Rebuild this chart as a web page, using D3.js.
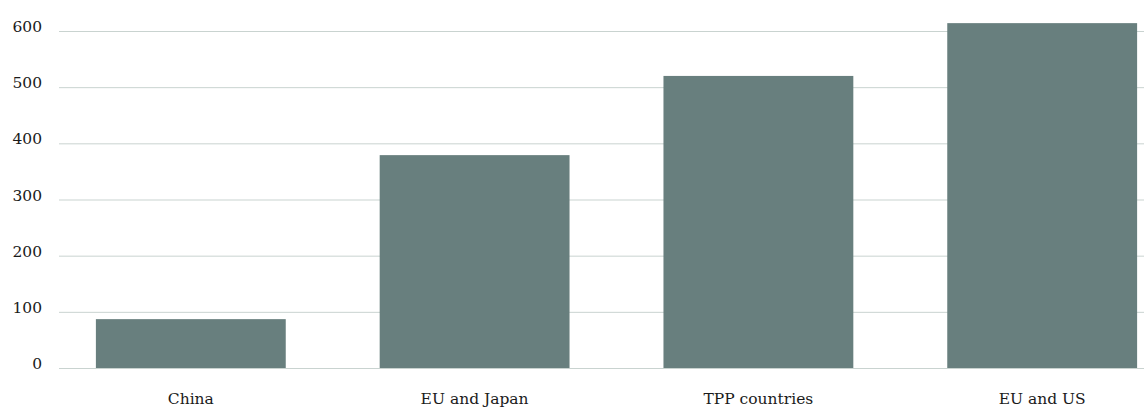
<!DOCTYPE html>
<html>
<head>
<meta charset="utf-8">
<script src="https://cdn.jsdelivr.net/npm/d3@7"></script>
<style>
  html, body { margin: 0; padding: 0; background: #fff; overflow: hidden; }
  svg { display: block; }
  svg text { font-family: "DejaVu Serif", serif; fill: #1a1a1a; }
</style>
</head>
<body>
<div id="chart"></div>
<script>
var categories = ["China", "EU and Japan", "TPP countries", "EU and US"];
var values = [87, 379, 520, 614];
var yTicks = [0, 100, 200, 300, 400, 500, 600];

var width = 1144,
  height = 407;

var plotLeft = 59,
  zeroY = 368,
  topY = 31;

var svg = d3.select("#chart").append("svg")
  .attr("width", width)
  .attr("height", height);

var y = d3.scaleLinear()
  .domain([0, 600])
  .range([zeroY, topY]);

// bands run past the right edge, the chart is cut off there
var x = d3.scaleBand()
  .domain(categories)
  .range([plotLeft, 1174])
  .paddingInner(0.331)
  .paddingOuter(0.13);

// GRID + Y LABELS
var grid = svg.append("g");
grid.selectAll("line")
  .data(yTicks).enter()
  .append("line")
  .attr("x1", plotLeft)
  .attr("x2", width)
  .attr("y1", function(d){ return y(d) + 0.5; })
  .attr("y2", function(d){ return y(d) + 0.5; })
  .attr("stroke", "#c9d3d0")
  .attr("stroke-width", 1);

grid.selectAll("text")
  .data(yTicks).enter()
  .append("text")
  .text(function(d){ return d; })
  .attr("x", 42)
  .attr("y", function(d){ return y(d) + 1; })
  .attr("text-anchor", "end")
  .attr("font-size", "15.5px");

// BARS
svg.selectAll(".bar")
  .data(values).enter()
  .append("rect")
  .attr("class", "bar")
  .attr("x", function(d, i){ return x(categories[i]); })
  .attr("width", x.bandwidth())
  .attr("y", function(d){ return y(d); })
  .attr("height", function(d){ return y(0) - y(d); })
  .attr("fill", "#687f7e");

// CATEGORY LABELS
svg.selectAll(".cat")
  .data(categories).enter()
  .append("text")
  .attr("class", "cat")
  .text(function(d){ return d; })
  .attr("x", function(d){ return x(d) + x.bandwidth() / 2; })
  .attr("y", 404)
  .attr("text-anchor", "middle")
  .attr("font-size", "15.5px");
</script>
</body>
</html>
